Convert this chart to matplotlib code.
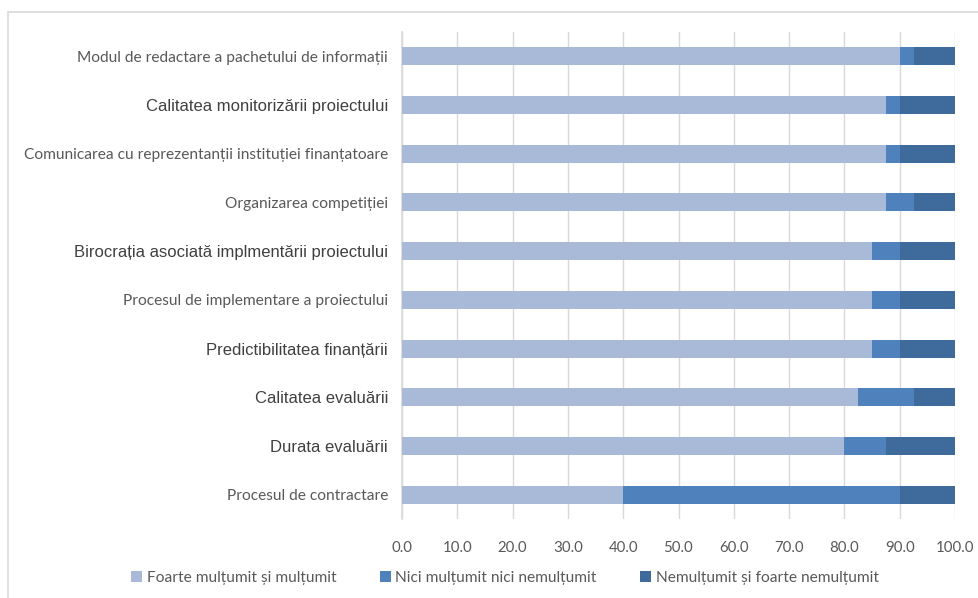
import matplotlib.pyplot as plt
from matplotlib.patches import Rectangle
from matplotlib.ticker import FormatStrFormatter

# categories, bottom to top
categories = [
    "Procesul de contractare",
    "Durata evaluării",
    "Calitatea evaluării",
    "Predictibilitatea finanțării",
    "Procesul de implementare a proiectului",
    "Birocrația asociată implmentării proiectului",
    "Organizarea competiției",
    "Comunicarea cu reprezentanții instituției finanțatoare",
    "Calitatea monitorizării proiectului",
    "Modul de redactare a pachetului de informații",
]
# labels drawn in the larger Arial-like font
big_labels = {
    "Durata evaluării",
    "Calitatea evaluării",
    "Predictibilitatea finanțării",
    "Birocrația asociată implmentării proiectului",
    "Calitatea monitorizării proiectului",
}

multumit = [40.0, 80.0, 82.5, 85.0, 85.0, 85.0, 87.5, 87.5, 87.5, 90.0]
neutru = [50.0, 7.5, 10.0, 5.0, 5.0, 5.0, 5.0, 2.5, 2.5, 2.5]
nemultumit = [10.0, 12.5, 7.5, 10.0, 10.0, 10.0, 7.5, 10.0, 10.0, 7.5]

series_names = [
    "Foarte mulțumit și mulțumit",
    "Nici mulțumit nici nemulțumit",
    "Nemulțumit și foarte nemulțumit",
]
colors = ["#A9B9D8", "#4F81BD", "#3E6A9C"]

fig = plt.figure(figsize=(9.79, 5.98), dpi=100)
ax = fig.add_axes([402 / 979, 1 - 519 / 598, 553 / 979, 487 / 598])

y = range(len(categories))
left = [0.0] * len(categories)
for vals, name, c in zip([multumit, neutru, nemultumit], series_names, colors):
    ax.barh(y, vals, left=left, height=0.37, color=c, label=name, zorder=3)
    left = [a + b for a, b in zip(left, vals)]

ax.set_xlim(0, 100)
ax.set_ylim(-0.5, len(categories) - 0.5)
ax.set_xticks(range(0, 101, 10))
ax.xaxis.set_major_formatter(FormatStrFormatter("%.1f"))
ax.grid(axis="x", color="#D9D9D9", linewidth=1, zorder=0)
for s in ["top", "right", "bottom"]:
    ax.spines[s].set_visible(False)
ax.spines["left"].set_color("#D9D9D9")
ax.spines["left"].set_linewidth(1.2)
ax.tick_params(axis="both", length=0)
ax.tick_params(axis="x", pad=16, labelsize=10.8, labelcolor="#595959")
for lab in ax.get_xticklabels():
    lab.set_family("Lato")

ax.set_yticks(list(y))
ax.set_yticklabels(categories)
for lab in ax.get_yticklabels():
    if lab.get_text() in big_labels:
        lab.set_family("Liberation Sans")
        lab.set_fontsize(12)
        lab.set_color("#404040")
    else:
        lab.set_family("Lato")
        lab.set_fontsize(11.2)
        lab.set_color("#595959")
ax.tick_params(axis="y", pad=10)

leg = fig.legend(loc="center", bbox_to_anchor=(505 / 979, 1 - 578 / 598), ncol=3,
                 frameon=False, handlelength=0.7, handleheight=0.7,
                 handletextpad=0.3, columnspacing=2.8,
                 prop={"family": "Lato", "size": 11.2})
for t in leg.get_texts():
    t.set_color("#595959")

# partial chart-area frame
fig.patches.append(Rectangle((8 / 979, -0.1), 1.1, 1 - 12 / 598 + 0.1,
                             transform=fig.transFigure, fill=False,
                             edgecolor="#D9D9D9", linewidth=1.2))

fig.savefig("out.png", dpi=100)
